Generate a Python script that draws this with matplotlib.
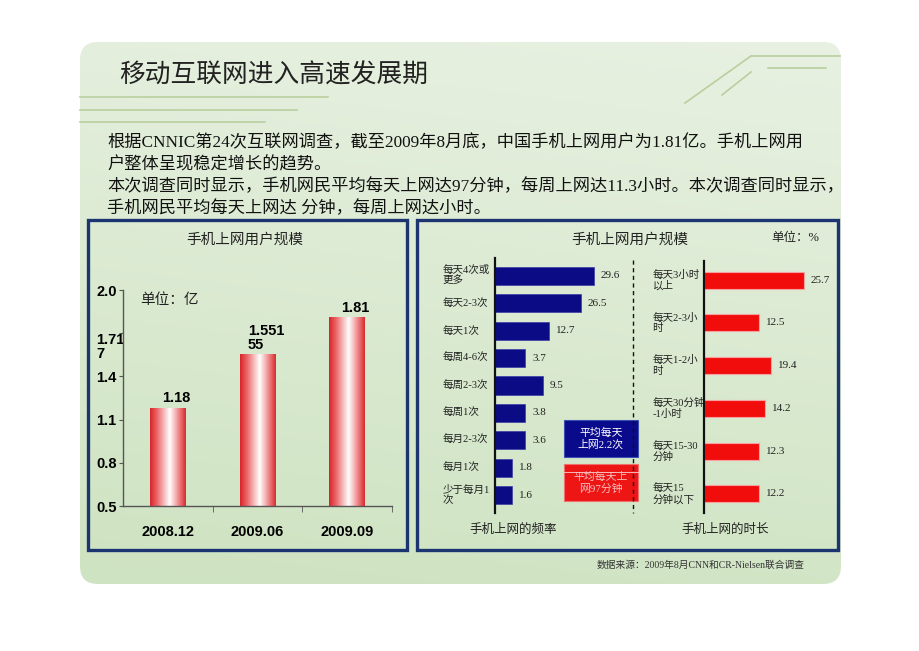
import numpy as np
import matplotlib.pyplot as plt
from matplotlib.patches import FancyBboxPatch, Rectangle
from matplotlib.colors import LinearSegmentedColormap

plt.rcParams['font.family'] = ['Liberation Serif', 'Noto Sans CJK SC']

# ----------------------------
# data
# ----------------------------
title = "移动互联网进入高速发展期"
body_lines = [
    "根据CNNIC第24次互联网调查，截至2009年8月底，中国手机上网用户为1.81亿。手机上网用",
    "户整体呈现稳定增长的趋势。",
    "本次调查同时显示，手机网民平均每天上网达97分钟，每周上网达11.3小时。本次调查同时显示，",
    "手机网民平均每天上网达 分钟，每周上网达小时。",
]

# left chart: users (亿)
user_periods = ["2008.12", "2009.06", "2009.09"]
user_values = [1.18, 1.55, 1.81]
user_labels = ["1.18", "1.551\n55", "1.81"]
user_yticks = [0.5, 0.8, 1.1, 1.4, 1.7, 2.0]
user_yticklabels = ["0.5", "0.8", "1.1", "1.4", "1.71\n7", "2.0"]

# right chart: frequency (%) - printed values and bar lengths as drawn
freq_cats = ["每天4次或\n更多", "每天2-3次", "每天1次", "每周4-6次", "每周2-3次",
             "每周1次", "每月2-3次", "每月1次", "少于每月1\n次"]
freq_values = [29.6, 26.5, 12.7, 3.7, 9.5, 3.8, 3.6, 1.8, 1.6]
freq_drawn = [29.6, 25.7, 16.1, 9.0, 14.3, 9.0, 9.0, 5.1, 5.1]

# right chart: duration (%)
dur_cats = ["每天3小时\n以上", "每天2-3小\n时", "每天1-2小\n时", "每天30分钟\n-1小时",
            "每天15-30\n分钟", "每天15\n分钟以下"]
dur_values = [25.7, 12.5, 19.4, 14.2, 12.3, 12.2]
dur_drawn = [25.7, 14.1, 17.2, 15.7, 14.1, 14.1]

W, H = 920, 651
fig = plt.figure(figsize=(W / 100, H / 100), dpi=100)
fig.patch.set_facecolor("white")


def rect(x0, y0, x1, y1):
    # pixel box (top-left origin) -> figure fraction
    return [x0 / W, (H - y1) / H, (x1 - x0) / W, (y1 - y0) / H]


# ----------------------------
# background layer in pixel coords
# ----------------------------
bg = fig.add_axes([0, 0, 1, 1])
bg.set_xlim(0, W)
bg.set_ylim(H, 0)
bg.axis("off")

panel = FancyBboxPatch((80, 42), 761, 542, boxstyle="round,pad=0,rounding_size=18",
                       facecolor="none", edgecolor="none")
bg.add_patch(panel)
yy, xx = np.mgrid[0:1:200j, 0:1:300j]
top = np.array([232, 241, 226]) / 255
bot = np.array([206, 227, 193]) / 255
t = np.clip(yy * 0.85 + (1 - xx) * 0.15, 0, 1)[..., None]
grad = top * (1 - t) + bot * t
im = bg.imshow(grad, extent=[80, 841, 584, 42], aspect="auto", zorder=0)
im.set_clip_path(panel)
bg.set_xlim(0, W)
bg.set_ylim(H, 0)

# decorative lines
line_col = "#b9cf9e"
for y, x1 in [(97, 328), (110, 297), (122, 265)]:
    bg.plot([80, x1], [y, y], color=line_col, lw=1.2)
bg.plot([685, 751], [103, 56], color=line_col, lw=1.2)
bg.plot([751, 840], [56, 56], color=line_col, lw=1.2)
bg.plot([722, 751], [95, 72], color=line_col, lw=1.2)
bg.plot([768, 826], [68, 68], color=line_col, lw=1.2)

bg.text(119, 76, title, fontsize=18.5, va="center", ha="left", color="#222222",
        family=["Noto Sans CJK SC"])
for y, s in zip([143, 165, 187, 209], body_lines):
    bg.text(107, y, s, fontsize=12.4, va="center", ha="left", color="#111111")

# frames
for x0, x1 in [(88, 407), (417, 838)]:
    bg.add_patch(Rectangle((x0, 220), x1 - x0, 330, facecolor="none",
                           edgecolor="#1c3470", lw=2.4, zorder=3))

bg.text(245, 240, "手机上网用户规模", fontsize=10.5, ha="center", va="center", color="#222222")
bg.text(630, 240, "手机上网用户规模", fontsize=10.5, ha="center", va="center", color="#222222")
bg.text(795, 238, "单位：%", fontsize=9, ha="center", va="center", color="#222222")
bg.text(513, 530, "手机上网的频率", fontsize=9, ha="center", va="center", color="#222222")
bg.text(725, 530, "手机上网的时长", fontsize=9, ha="center", va="center", color="#222222")
bg.text(805, 565, "数据来源：2009年8月CNN和CR-Nielsen联合调查", fontsize=7, ha="right",
        va="center", color="#333333")
bg.text(140, 300, "单位：亿", fontsize=10.5, ha="left", va="center", color="#222222")

# dashed separator and callout boxes
bg.plot([633, 633], [260, 513], color="#111111", lw=1, ls=(0, (3, 2.5)))
bg.add_patch(Rectangle((564, 420), 74, 37, facecolor="#0a0a8c", edgecolor="#3b4fb0", lw=0.8))
bg.text(601, 438.5, "平均每天\n上网2.2次", color="white", fontsize=7.8, ha="center", va="center",
        linespacing=1.2)
bg.add_patch(Rectangle((564, 464), 74, 37, facecolor="#ee1515", edgecolor="#f07070", lw=0.8))
bg.text(601, 482.5, "平均每天上\n网97分钟", color="#f6c0c0", fontsize=7.8, ha="center",
        va="center", linespacing=1.2)
bg.plot([564, 638], [472, 472], color="#f4d0d0", lw=0.6)

# ----------------------------
# left chart: user scale
# ----------------------------
ax1 = fig.add_axes(rect(123, 290, 392, 506))
ax1.patch.set_alpha(0)
x = np.arange(len(user_periods))
bars = ax1.bar(x, user_values, width=0.4, color="none")
cyl = LinearSegmentedColormap.from_list(
    "cyl", [(0, "#d8262b"), (0.2, "#ec6a6d"), (0.55, "#ffffff"), (0.8, "#f08a8c"), (1, "#da2c30")])
for b in bars:
    ax1.imshow(np.linspace(0, 1, 64)[None, :], cmap=cyl, aspect="auto",
               extent=[b.get_x(), b.get_x() + b.get_width(), 0.5, b.get_height()], zorder=2)
for xi, v, lab in zip(x, user_values, user_labels):
    ax1.annotate(lab, (xi, v), xytext=(6, 2), textcoords="offset points", ha="center",
                 va="bottom", multialignment="left", fontsize=10.5, fontweight="bold",
                 family=["Liberation Sans"], linespacing=1.0)
ax1.set_xlim(-0.5, 2.5)
ax1.set_ylim(0.5, 2.0)
ax1.set_yticks(user_yticks)
ax1.set_yticklabels(user_yticklabels, fontsize=10.5, fontweight="bold", family=["Liberation Sans"])
for lab in ax1.get_yticklabels():
    lab.set_ha("left")
    lab.set_linespacing(1.0)
    if "\n" in lab.get_text():
        lab.set_va("top")
ax1.set_xticks(x)
ax1.set_xticklabels(user_periods, fontsize=10.5, fontweight="bold", family=["Liberation Sans"])
ax1.set_xticks([0.5, 1.5, 2.5], minor=True)
ax1.tick_params(axis="x", which="major", length=0, pad=14)
ax1.tick_params(axis="x", which="minor", length=4, color="#555555")
ax1.tick_params(axis="y", length=3, color="#555555", pad=16)
for s in ["top", "right"]:
    ax1.spines[s].set_visible(False)
for s in ["left", "bottom"]:
    ax1.spines[s].set_color("#555555")
    ax1.spines[s].set_linewidth(1)

# ----------------------------
# right chart: frequency
# ----------------------------
px_per_unit = 99 / 29.6
ax2 = fig.add_axes(rect(495, 258, 495 + 45 * px_per_unit, 513))
ax2.patch.set_alpha(0)
yf = np.arange(len(freq_cats))
ax2.barh(yf, freq_drawn, height=0.66, color="#0b0b86", edgecolor="#3c3ca6", lw=0.5)
for yi, d, v in zip(yf, freq_drawn, freq_values):
    ax2.annotate(f"{v}", (d, yi), xytext=(5, 0), textcoords="offset points",
                 ha="left", va="center", fontsize=8, color="#222222")
ax2.set_xlim(0, 45)
ax2.set_ylim(len(freq_cats) - 0.35, -0.65)
ax2.set_yticks(yf)
ax2.set_yticklabels(freq_cats, fontsize=7.6, color="#222222")
for lab in ax2.get_yticklabels():
    lab.set_ha("left")
    lab.set_va("center")
    lab.set_linespacing(1.1)
ax2.tick_params(axis="y", length=0, pad=38)
ax2.set_xticks([])
for s in ["top", "right", "bottom"]:
    ax2.spines[s].set_visible(False)
ax2.spines["left"].set_linewidth(1.6)
ax2.spines["left"].set_color("#111111")

# ----------------------------
# right chart: duration
# ----------------------------
px_per_unit2 = 100 / 25.7
ax3 = fig.add_axes(rect(704, 261, 704 + 32 * px_per_unit2, 513))
ax3.patch.set_alpha(0)
yd = np.arange(len(dur_cats))
ax3.barh(yd, dur_drawn, height=0.4, color="#f20d0d", edgecolor="#f6a0a0", lw=0.8)
for yi, d, v in zip(yd, dur_drawn, dur_values):
    ax3.annotate(f"{v}", (d, yi), xytext=(5, 0), textcoords="offset points",
                 ha="left", va="center", fontsize=8, color="#222222")
ax3.set_xlim(0, 32)
ax3.set_ylim(len(dur_cats) - 0.55, -0.45)
ax3.set_yticks(yd)
ax3.set_yticklabels(dur_cats, fontsize=7.6, color="#222222")
for lab in ax3.get_yticklabels():
    lab.set_ha("left")
    lab.set_va("center")
    lab.set_linespacing(1.1)
ax3.tick_params(axis="y", length=0, pad=37)
ax3.set_xticks([])
for s in ["top", "right", "bottom"]:
    ax3.spines[s].set_visible(False)
ax3.spines["left"].set_linewidth(1.6)
ax3.spines["left"].set_color("#111111")

fig.savefig("out.png", dpi=100)
